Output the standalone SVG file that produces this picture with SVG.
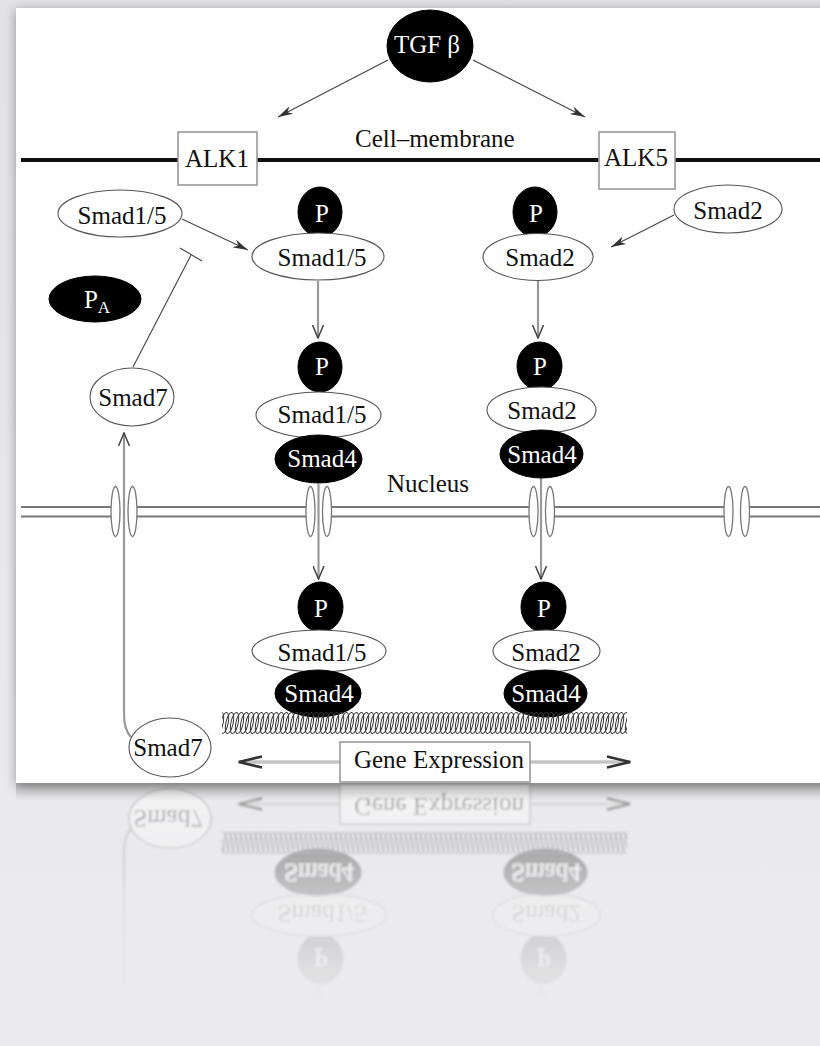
<svg xmlns="http://www.w3.org/2000/svg" xmlns:xlink="http://www.w3.org/1999/xlink" width="820" height="1046" viewBox="0 0 820 1046">
<style>
text{font-family:"Liberation Serif","Times New Roman",serif;font-size:25px;text-anchor:middle;fill:#111}
.wt{fill:#fff}
.blk{fill:#000;stroke:#000;stroke-width:1}
.wht{fill:#fff;stroke:#555;stroke-width:1.1}
.box{fill:#fff;stroke:#999;stroke-width:1.6}
.thin{stroke:#444;stroke-width:1.1;fill:none}
.grey{stroke:#999;stroke-width:2.2;fill:none}
.pore{fill:#fff;stroke:#777;stroke-width:1.3}
.nm{stroke:#777;stroke-width:2;fill:none}
</style>
<defs>
<linearGradient id="bg" x1="0" y1="0" x2="0" y2="1">
<stop offset="0" stop-color="#e3e3e5"/>
<stop offset="1" stop-color="#ececee"/>
</linearGradient>
<filter id="sh" x="-10%" y="-10%" width="120%" height="120%">
<feGaussianBlur stdDeviation="6"/>
</filter>
<filter id="soft"><feGaussianBlur stdDeviation="0.8"/></filter>
<marker id="arr" viewBox="0 0 16 10" refX="15" refY="5" markerWidth="16" markerHeight="10" markerUnits="userSpaceOnUse" orient="auto">
<path d="M0,0.8 L15,5 L0,9.2 L4.5,5 z" fill="#333"/>
</marker>
<marker id="garr" viewBox="0 0 28 14" refX="26" refY="7" markerWidth="28" markerHeight="14" markerUnits="userSpaceOnUse" orient="auto-start-reverse">
<path d="M2,1.5 L25,7 L2,12.5" fill="none" stroke="#333" stroke-width="2.6" stroke-linejoin="miter"/>
</marker>
<marker id="vee" viewBox="0 0 14 12" refX="13" refY="6" markerWidth="14" markerHeight="12" markerUnits="userSpaceOnUse" orient="auto">
<path d="M0,0.5 L13,6 L0,11.5" fill="none" stroke="#444" stroke-width="1.5"/>
</marker>
<pattern id="coil" x="222" y="711" width="5" height="24" patternUnits="userSpaceOnUse">
<ellipse cx="-2.5" cy="12" rx="3.6" ry="10.8" fill="none" stroke="#333" stroke-width="1" transform="rotate(12 -2.5 12)"/>
<ellipse cx="2.5" cy="12" rx="3.6" ry="10.8" fill="none" stroke="#333" stroke-width="1" transform="rotate(12 2.5 12)"/>
<ellipse cx="7.5" cy="12" rx="3.6" ry="10.8" fill="none" stroke="#333" stroke-width="1" transform="rotate(12 7.5 12)"/>
</pattern>
<linearGradient id="fadeG" x1="0" y1="783" x2="0" y2="1010" gradientUnits="userSpaceOnUse">
<stop offset="0" stop-color="#fff" stop-opacity="0.45"/>
<stop offset="0.5" stop-color="#fff" stop-opacity="0.16"/>
<stop offset="1" stop-color="#fff" stop-opacity="0"/>
</linearGradient>
<mask id="fade" maskUnits="userSpaceOnUse" x="0" y="783" width="820" height="263">
<rect x="0" y="783" width="820" height="263" fill="url(#fadeG)"/>
</mask>
<linearGradient id="botsh" x1="0" y1="0" x2="0" y2="1">
<stop offset="0" stop-color="#000" stop-opacity="0.22"/>
<stop offset="1" stop-color="#000" stop-opacity="0"/>
</linearGradient>
</defs>

<rect id="background" x="0" y="0" width="820" height="1046" fill="url(#bg)"/>
<rect x="16" y="10" width="830" height="776" fill="#000" opacity="0.35" filter="url(#sh)"/>
<rect id="card" x="16" y="8" width="830" height="775" fill="#fff"/>

<g id="content">
<g id="membranes">
<line x1="21" y1="160" x2="820" y2="160" stroke="#111" stroke-width="4"/>
<g class="nm">
<path d="M21,507 H111 M137,507 H306 M331,507 H529 M554,507 H724 M749,507 H820"/>
<path d="M21,516.5 H111 M137,516.5 H306 M331,516.5 H529 M554,516.5 H724 M749,516.5 H820"/>
</g>
<g id="pores">
<ellipse class="pore" cx="115.5" cy="511.5" rx="4.5" ry="25"/>
<ellipse class="pore" cx="132.5" cy="511.5" rx="4.5" ry="25"/>
<ellipse class="pore" cx="310.5" cy="511.5" rx="4.5" ry="25"/>
<ellipse class="pore" cx="327" cy="511.5" rx="4.5" ry="25"/>
<ellipse class="pore" cx="533.5" cy="511.5" rx="4.5" ry="25"/>
<ellipse class="pore" cx="550" cy="511.5" rx="4.5" ry="25"/>
<ellipse class="pore" cx="728.5" cy="511.5" rx="4.5" ry="25"/>
<ellipse class="pore" cx="745" cy="511.5" rx="4.5" ry="25"/>
</g>
<text x="355" y="147" style="text-anchor:start">Cell–membrane</text>
<text x="428" y="492">Nucleus</text>
</g>

<g id="connectors">
<line class="thin" x1="388" y1="60" x2="278" y2="117" marker-end="url(#arr)"/>
<line class="thin" x1="473" y1="60" x2="585" y2="117" marker-end="url(#arr)"/>
<line class="thin" x1="182" y1="219" x2="248" y2="250" marker-end="url(#arr)"/>
<line class="thin" x1="674" y1="215" x2="611" y2="247" marker-end="url(#arr)"/>
<line class="grey" x1="318" y1="281" x2="318" y2="338" marker-end="url(#vee)"/>
<line class="grey" x1="538" y1="281" x2="538" y2="338" marker-end="url(#vee)"/>
<line class="grey" x1="318.5" y1="484" x2="318.5" y2="579" marker-end="url(#vee)"/>
<line class="grey" x1="541" y1="478" x2="541" y2="579" marker-end="url(#vee)"/>
<path class="grey" d="M131,737 Q124,730 124,714 L124,433" stroke-width="3" stroke="#bbb" marker-end="url(#vee)"/>
<path class="thin" d="M133,367 L191,255 M180,248 L202,261"/>
<line x1="238" y1="762" x2="631" y2="762" stroke="#c4c4c4" stroke-width="3.5" marker-start="url(#garr)" marker-end="url(#garr)"/>
</g>

<g id="tgfb"><ellipse class="blk" cx="430" cy="46" rx="43" ry="36"/><text class="wt" x="427" y="53">TGF β</text></g>
<g id="alk1"><rect class="box" x="178" y="132" width="79" height="53"/><text x="217" y="167">ALK1</text></g>
<g id="alk5"><rect class="box" x="599" y="132" width="76" height="57"/><text x="636" y="166">ALK5</text></g>
<g id="smad15-free"><ellipse class="wht" cx="120" cy="213.5" rx="62" ry="23.5"/><text x="122" y="224">Smad1/5</text></g>
<g id="smad2-free"><ellipse class="wht" cx="728" cy="209" rx="54" ry="24"/><text x="728" y="219">Smad2</text></g>
<g id="pa"><ellipse class="blk" cx="95" cy="299" rx="46" ry="23"/><text class="wt" x="97" y="308">P<tspan font-size="17" dy="5">A</tspan></text></g>

<g id="p-1l"><ellipse class="blk" cx="320" cy="212" rx="22" ry="25"/><text class="wt" x="322" y="222">P</text></g>
<g id="smad15-1"><ellipse class="wht" cx="318" cy="256.5" rx="66" ry="23.5"/><text x="322" y="266">Smad1/5</text></g>
<g id="p-1r"><ellipse class="blk" cx="535" cy="212" rx="22" ry="25"/><text class="wt" x="536" y="222">P</text></g>
<g id="smad2-1"><ellipse class="wht" cx="538" cy="257" rx="55" ry="23.5"/><text x="540" y="266">Smad2</text></g>

<g id="smad7-top"><ellipse class="wht" cx="132" cy="397" rx="42" ry="29"/><text x="133" y="406">Smad7</text></g>

<g id="p-2l"><ellipse class="blk" cx="320" cy="367" rx="22" ry="25"/><text class="wt" x="322" y="375">P</text></g>
<g id="smad15-2"><ellipse class="wht" cx="318.5" cy="415" rx="62.5" ry="23"/><text x="322" y="423">Smad1/5</text></g>
<g id="smad4-2l"><ellipse class="blk" cx="318.5" cy="459" rx="43.5" ry="24"/><text class="wt" x="322" y="467">Smad4</text></g>
<g id="p-2r"><ellipse class="blk" cx="539.5" cy="366" rx="22.5" ry="24"/><text class="wt" x="540" y="375">P</text></g>
<g id="smad2-2"><ellipse class="wht" cx="541.5" cy="410" rx="54.5" ry="23"/><text x="542" y="419">Smad2</text></g>
<g id="smad4-2r"><ellipse class="blk" cx="541.5" cy="454" rx="41.5" ry="24"/><text class="wt" x="542" y="463">Smad4</text></g>

<g id="p-3l"><ellipse class="blk" cx="320.5" cy="607" rx="22.5" ry="25"/><text class="wt" x="321" y="617">P</text></g>
<g id="smad15-3"><ellipse class="wht" cx="319" cy="651" rx="67" ry="21"/><text x="322" y="661">Smad1/5</text></g>
<g id="smad4-3l"><ellipse class="blk" cx="318" cy="693.5" rx="43" ry="23.5"/><text class="wt" x="319" y="702">Smad4</text></g>
<g id="p-3r"><ellipse class="blk" cx="543.5" cy="607" rx="22.5" ry="25"/><text class="wt" x="544" y="617">P</text></g>
<g id="smad2-3"><ellipse class="wht" cx="546.5" cy="651" rx="53.5" ry="21"/><text x="546" y="661">Smad2</text></g>
<g id="smad4-3r"><ellipse class="blk" cx="545.5" cy="693.5" rx="41.5" ry="23.5"/><text class="wt" x="546" y="702">Smad4</text></g>

<g id="dna"><rect x="222" y="711" width="405" height="24" fill="url(#coil)"/></g>
<g id="smad7-bottom"><ellipse class="wht" cx="170" cy="747.5" rx="41" ry="29.5"/><text x="168" y="756">Smad7</text></g>
<g id="gene-expression"><rect class="box" x="340" y="742" width="190" height="40"/><text x="439" y="768">Gene Expression</text></g>
</g>

<g id="reflection" mask="url(#fade)">
<use xlink:href="#content" href="#content" transform="matrix(1 0 0 -1 0 1566)" filter="url(#soft)"/>
</g>
<rect x="16" y="783" width="830" height="18" fill="url(#botsh)"/>
</svg>
